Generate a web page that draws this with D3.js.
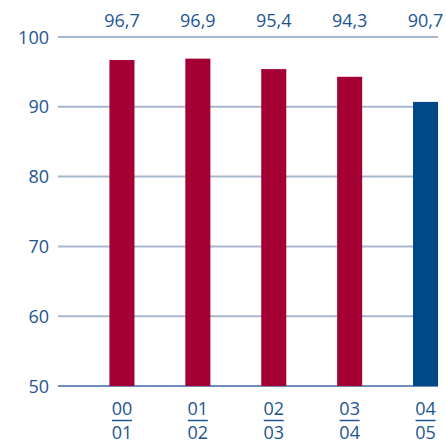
<!DOCTYPE html>
<html>
<head>
<meta charset="utf-8">
<script src="https://cdn.jsdelivr.net/npm/d3@7"></script>
<style>
  body { margin: 0; background: #fff; }
  svg { display: block; font-family: "Open Sans", "Noto Sans", sans-serif; }
</style>
</head>
<body>
<div id="grafica"></div>
<script>
// datos del gráfico
const cursosArriba = ["00", "01", "02", "03", "04"];
const cursosAbajo = ["01", "02", "03", "04", "05"];
const valores = [96.7, 96.9, 95.4, 94.3, 90.7];
const ticksY = [50, 60, 70, 80, 90, 100];

const ancho = 446, alto = 442;
const azulTexto = "#1d5592";

const svg = d3.select("#grafica")
    .append("svg")
    .attr("width", ancho)
    .attr("height", alto);

const x = d3.scaleBand()
    .domain(cursosArriba)
    .range([84, 463.5])
    .paddingInner(0.67)
    .paddingOuter(0.335);

const y = d3.scaleLinear()
    .domain([50, 100])
    .range([386, 37]);

// rejilla horizontal
svg.append("g")
    .selectAll("line")
    .data(ticksY)
    .enter()
    .append("line")
    .attr("x1", 58)
    .attr("x2", 438)
    .attr("y1", d => y(d))
    .attr("y2", d => y(d))
    .attr("stroke", d => d === 50 ? "#6f8cbd" : "#a8b7d0")
    .attr("stroke-width", 2);

// etiquetas del eje Y
svg.append("g")
    .selectAll("text")
    .data(ticksY)
    .enter()
    .append("text")
    .attr("x", 49)
    .attr("y", d => y(d) + 6.5)
    .attr("text-anchor", "end")
    .attr("fill", azulTexto)
    .style("font-size", "18px")
    .text(d => d);

// barras
svg.append("g")
    .selectAll("rect")
    .data(valores)
    .enter()
    .append("rect")
    .attr("x", (d, i) => x(cursosArriba[i]))
    .attr("width", x.bandwidth())
    .attr("y", d => y(d))
    .attr("height", d => y(50) - y(d))
    .attr("fill", (d, i) => i === valores.length - 1 ? "#004886" : "#a50034");

// valores arriba
svg.append("g")
    .selectAll("text")
    .data(valores)
    .enter()
    .append("text")
    .attr("x", (d, i) => x(cursosArriba[i]) + x.bandwidth() / 2)
    .attr("y", 27)
    .attr("text-anchor", "middle")
    .attr("fill", azulTexto)
    .style("font-size", "18px")
    .text(d => d3.format(".1f")(d).replace(".", ","));

// etiquetas del eje X en forma de fracción
const etiquetas = svg.append("g")
    .selectAll("g")
    .data(cursosArriba)
    .enter()
    .append("g")
    .attr("transform", d => `translate(${x(d) + x.bandwidth() / 2},0)`);

etiquetas.append("text")
    .attr("y", 415)
    .attr("text-anchor", "middle")
    .attr("fill", azulTexto)
    .style("font-size", "18px")
    .text(d => d);

etiquetas.append("line")
    .attr("x1", -10)
    .attr("x2", 10)
    .attr("y1", 420.5)
    .attr("y2", 420.5)
    .attr("stroke", azulTexto)
    .attr("stroke-width", 1.5);

etiquetas.append("text")
    .attr("y", 439)
    .attr("text-anchor", "middle")
    .attr("fill", azulTexto)
    .style("font-size", "18px")
    .text((d, i) => cursosAbajo[i]);
</script>
</body>
</html>
